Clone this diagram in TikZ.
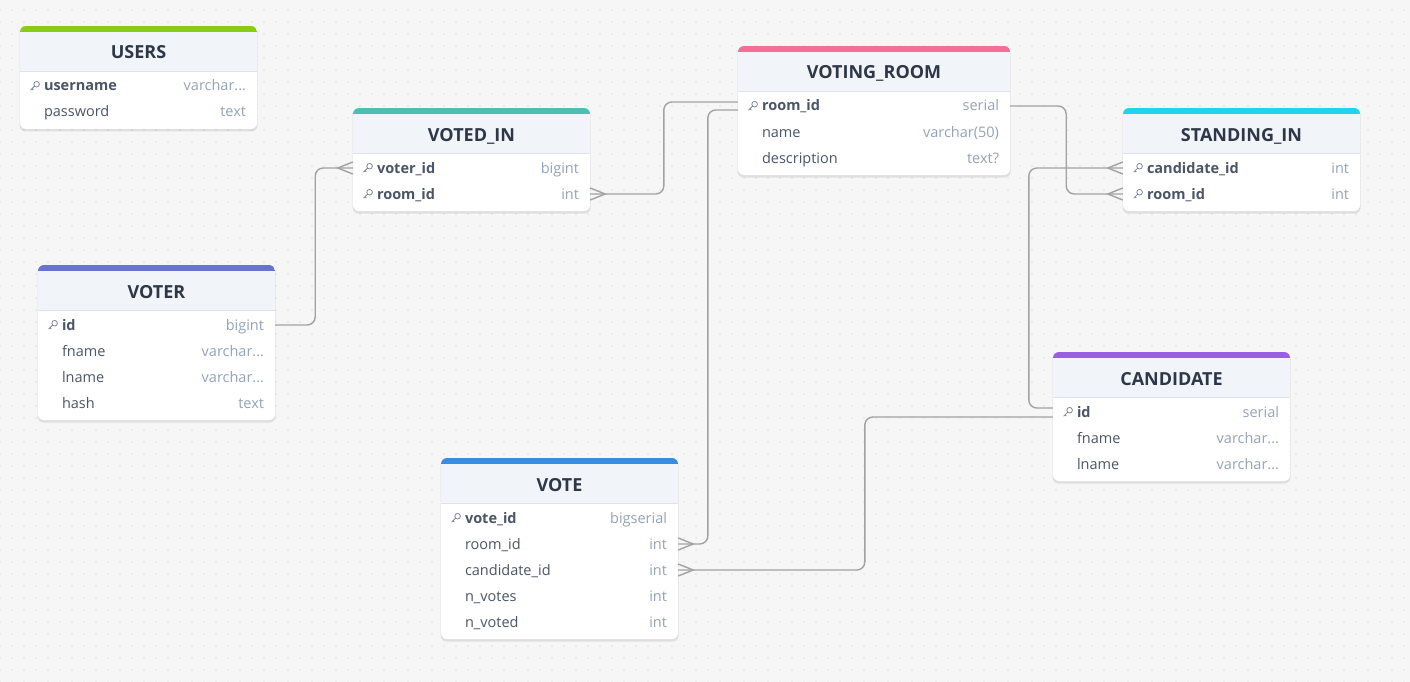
\documentclass[tikz,border=0pt]{standalone}
\usepackage{fontspec}
\setmainfont{Open Sans}
\usetikzlibrary{positioning,patterns.meta}
\usepackage{xcolor}

\definecolor{canvas}{HTML}{F6F6F6}
\definecolor{griddot}{HTML}{C8C8C8}
\definecolor{headfill}{HTML}{F1F4F9}
\definecolor{headline}{HTML}{DCE3EE}
\definecolor{titletext}{HTML}{2D3748}
\definecolor{fieldtext}{HTML}{4A5568}
\definecolor{typetext}{HTML}{94A3B8}
\definecolor{linkgray}{HTML}{A2A2A2}
\definecolor{keygray}{HTML}{7D8797}
\definecolor{usersbar}{HTML}{88CC14}
\definecolor{votedinbar}{HTML}{4DBFB0}
\definecolor{voterbar}{HTML}{6674CF}
\definecolor{roombar}{HTML}{F56E98}
\definecolor{standbar}{HTML}{22D3EE}
\definecolor{candbar}{HTML}{995FE3}
\definecolor{votebar}{HTML}{3A8DDE}

\newcommand\moredots{.{}.{}.}

\tikzset{
  table title/.style={anchor=base, inner sep=0pt, font=\bfseries\fontsize{18}{21}\selectfont, text=titletext},
  table row/.style={minimum height=26pt, inner sep=0pt},
  field/.style={anchor=base west, inner sep=0pt, font=\fontsize{14.5}{17}\selectfont, text=fieldtext},
  type/.style={anchor=base east, inner sep=0pt, font=\fontsize{14.5}{17}\selectfont, text=typetext},
  link/.style={draw=linkgray, line width=1.4pt, rounded corners=8pt},
  many west/.pic={\draw[linkgray, line width=1.4pt] (0,-6) -- (-15,0) -- (0,6);},
  many east/.pic={\draw[linkgray, line width=1.4pt] (0,-6) -- (15,0) -- (0,6);},
  pkey/.pic={\draw[keygray, line width=0.8pt] (1.8,-1.8) circle (2.8pt) (0,0) -- (-4.2,4.2) (-2.8,2.8) -- (-1.5,4.1);},
  nokey/.pic={},
}

% #1 name, #2 left, #3 top, #4 width, #5 bar colour, #6 title, #7 bottom, #8 rows
\newcommand\ertable[8]{%
  \fill[black, opacity=0.09, rounded corners=6pt] (#2-0.5,#3+0.5) rectangle (#2+#4+0.5,#7+2.5);
  \fill[white, rounded corners=6pt] (#2,#3) rectangle (#2+#4,#7);
  \begin{scope}
    \clip[rounded corners=6pt] (#2,#3) rectangle (#2+#4,#7);
    \fill[headfill] (#2,#3) rectangle (#2+#4,#3+45);
    \fill[#5] (#2,#3) rectangle (#2+#4,#3+6);
  \end{scope}
  \draw[headline, line width=0.8pt] (#2,#3+45) -- (#2+#4,#3+45);
  \node[table title] (#1-title) at (#2+#4/2,#3+33) {#6};
  \foreach \fname/\ftype/\fkey [count=\i] in {#8}{
    \node[table row, minimum width=#4] (#1-\i) at (#2+#4/2,#3+34+26*\i) {};
    \pic at ([xshift=15pt]#1-\i.west) {\fkey};
    \node[field] at ([xshift=24pt, yshift=-5pt]#1-\i.west) {\fname};
    \node[type] at ([xshift=-11pt, yshift=-5pt]#1-\i.east) {\ftype};
  }
}

\begin{document}
\begin{tikzpicture}[x=1pt, y=-1pt]
  \useasboundingbox (0,0) rectangle (1410,682);
  \fill[canvas] (0,0) rectangle (1410,682);
  \fill[pattern={Dots[distance=12pt, radius=0.7pt]}, pattern color=griddot] (0,0) rectangle (1410,682);

  % Tables
  \ertable{users}{20}{26}{237}{usersbar}{USERS}{129}
    {\textbf{username}/varchar\moredots/pkey, password/text/nokey}
  \ertable{votedin}{353}{108}{237}{votedinbar}{VOTED\_IN}{211}
    {\textbf{voter\_id}/bigint/pkey, \textbf{room\_id}/int/pkey}
  \ertable{voter}{38}{265}{237}{voterbar}{VOTER}{420}
    {\textbf{id}/bigint/pkey, fname/varchar\moredots/nokey, lname/varchar\moredots/nokey, hash/text/nokey}
  \ertable{vroom}{738}{46}{272}{roombar}{VOTING\_ROOM}{175}
    {\textbf{room\_id}/serial/pkey, name/varchar(50)/nokey, description/text?/nokey}
  \ertable{standin}{1123}{108}{237}{standbar}{STANDING\_IN}{211}
    {\textbf{candidate\_id}/int/pkey, \textbf{room\_id}/int/pkey}
  \ertable{cand}{1053}{352}{237}{candbar}{CANDIDATE}{481}
    {\textbf{id}/serial/pkey, fname/varchar\moredots/nokey, lname/varchar\moredots/nokey}
  \ertable{vote}{441}{458}{237}{votebar}{VOTE}{639}
    {\textbf{vote\_id}/bigserial/pkey, room\_id/int/nokey, candidate\_id/int/nokey, n\_votes/int/nokey, n\_voted/int/nokey}

  % Relations
  \draw[link] (voter-1.east) -- ++(40,0) |- (votedin-1.west);
  \draw[link] ([yshift=4pt]vroom-1.west) -- ++(-74,0) |- (votedin-2.east);
  \draw[link] ([yshift=-4pt]vroom-1.west) -- ++(-30,0) |- (vote-2.east);
  \draw[link] (vroom-1.east) -- ++(56,0) |- (standin-2.west);
  \draw[link] ([yshift=4pt]cand-1.west) -- ++(-24,0) |- (standin-1.west);
  \draw[link] ([yshift=-5pt]cand-1.west) -- ++(-188,0) |- (vote-3.east);

  % Crow's feet on the many side
  \foreach \n/\s in {votedin-1/west, votedin-2/east, vote-2/east, vote-3/east, standin-1/west, standin-2/west}
    \pic at (\n.\s) {many \s};
\end{tikzpicture}
\end{document}
